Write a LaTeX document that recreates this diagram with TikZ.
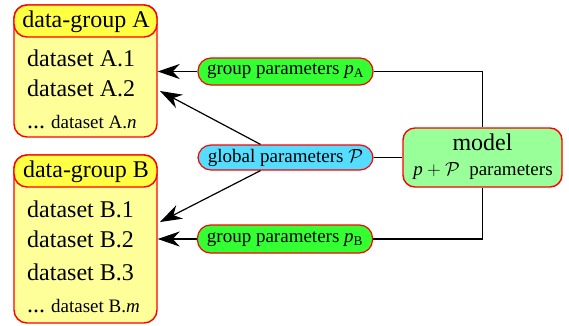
\RequirePackage{fix-cm}
\documentclass[tikz,border=0pt]{standalone}
\usepackage{fontspec}
\setmainfont{Liberation Serif}
\usetikzlibrary{arrows.meta,calc}
\definecolor{hdrY}{HTML}{FFFF44}
\definecolor{bodyY}{HTML}{FFFF99}
\definecolor{grpG}{HTML}{33FF33}
\definecolor{globB}{HTML}{55DDFF}
\definecolor{mdlG}{HTML}{99FF99}
\newcommand{\bigf}{\fontsize{24}{28}\selectfont}
\newcommand{\smallf}{\fontsize{19}{22}\selectfont}
\begin{document}
\begin{tikzpicture}[x=1pt,y=-1pt,
  groupbody/.style={draw=red, fill=bodyY, line width=1.4pt, rounded corners=13pt, minimum width=143pt, inner sep=0pt},
  grouphdr/.style={draw=red, fill=hdrY, line width=1.4pt, rounded corners=13pt, minimum width=143pt, minimum height=32pt, inner sep=0pt},
  hdrtext/.style={anchor=base, inner sep=0pt, font=\bigf},
  dsline/.style={anchor=base west, inner sep=0pt, font=\bigf},
  pill/.style={draw=red, line width=1.2pt, rounded corners=13pt, minimum width=175pt, inner sep=0pt, font=\smallf},
  modelbox/.style={draw=red, fill=mdlG, line width=1.4pt, rounded corners=12pt, minimum width=159pt, minimum height=59pt, inner sep=0pt},
  mtext/.style={anchor=base, inner sep=0pt},
  arr/.style={line width=1.2pt, -{Stealth[length=22pt,width=15pt,inset=7pt]}},
  conn/.style={line width=1.2pt}
]
\useasboundingbox (0,0) rectangle (569,325);

% group A
\node[groupbody, minimum height=132pt] (Abody) at (85.5,71) {};
\node[grouphdr] (Ahdr) at (85.5,21) {};
\node[hdrtext] (Ahdrt) at (86,27.5) {data-group A};
\node[dsline] (A1) at (27,66.5) {dataset A.1};
\node[dsline] (A2) at (27,96.5) {dataset A.2};
\node[dsline] (An) at (27,128) {\bigf ...\ \smallf dataset A.\textit{n}};

% group B
\node[groupbody, minimum height=168pt] (Bbody) at (85.5,239) {};
\node[grouphdr] (Bhdr) at (85.5,171) {};
\node[hdrtext] (Bhdrt) at (86,177.5) {data-group B};
\node[dsline] (B1) at (27,217) {dataset B.1};
\node[dsline] (B2) at (27,247) {dataset B.2};
\node[dsline] (B3) at (27,280) {dataset B.3};
\node[dsline] (Bm) at (27,312) {\bigf ...\ \smallf dataset B.\textit{m}};

% parameter pills
\node[pill, fill=grpG, minimum height=27pt] (pA) at (285.5,71.5) {group parameters $\mathit{p}_{\mathrm{A}}$};
\node[pill, fill=globB, minimum height=25pt] (gl) at (285.5,157.5) {global parameters $\mathcal{P}$};
\node[pill, fill=grpG, minimum height=28pt] (pB) at (285,239) {group parameters $\mathit{p}_{\mathrm{B}}$};

% model
\node[modelbox] (model) at (482.5,157.5) {};
\node[mtext, font=\bigf] (mtitle) at (482.5,150) {model};
\node[mtext, font=\smallf] (mparams) at (483,175) {$\mathit{p}+\mathcal{P}$\ \ parameters};

% connectors
\coordinate (gA) at (160,91);
\coordinate (gB) at (160,222);
\draw[arr] (pA.west) -- (pA.west -| Abody.east);
\draw[arr] (pB.west) -- (pB.west -| Bbody.east);
\draw[arr] ([xshift=-25pt]gl.north) -- (gA);
\draw[arr] ([xshift=-25pt]gl.south) -- (gB);
\draw[conn] (pA.east) -| (model.north);
\draw[conn] (pB.east) -| (model.south);
\draw[conn] (gl.east) -- (model.west);
\end{tikzpicture}
\end{document}
